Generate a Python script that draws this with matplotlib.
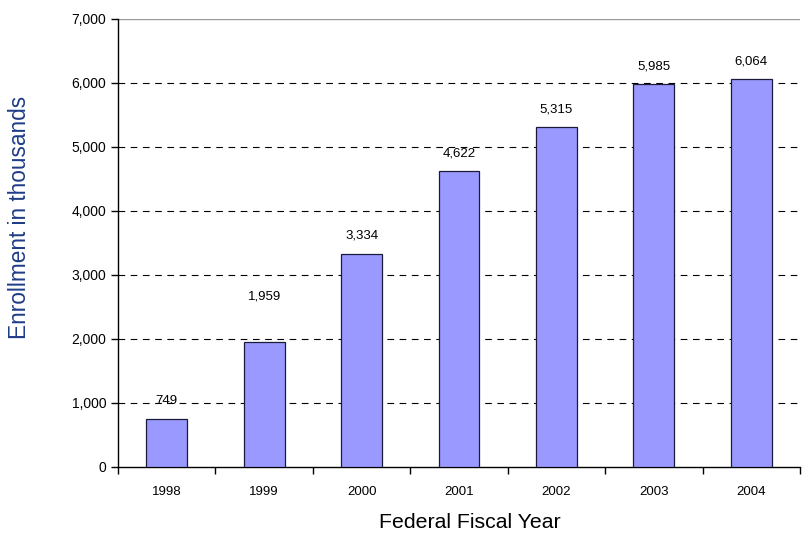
import matplotlib
matplotlib.use("Agg")
import matplotlib.pyplot as plt
from matplotlib.ticker import FuncFormatter

years = ["1998", "1999", "2000", "2001", "2002", "2003", "2004"]
enrollment = [749, 1959, 3334, 4622, 5315, 5985, 6064]
label_offsets = [8.5, 28, 8.5, 8.5, 8.5, 8.5, 8.5]  # points above bar top

plt.rcParams['font.family'] = ['Liberation Sans', 'DejaVu Sans']

fig = plt.figure(figsize=(8.03, 5.33), dpi=100)
ax = fig.add_axes([118/803, 1 - 467/533, (800-118)/803, (467-19)/533])

x = list(range(len(years)))
bars = ax.bar(x, enrollment, width=0.42, color="#9999FF", edgecolor="#1a1a3a", linewidth=0.9, zorder=3)

ax.set_xlim(-0.5, len(years) - 0.5)
ax.set_ylim(0, 7000)
ax.set_yticks(range(0, 7001, 1000))
ax.yaxis.set_major_formatter(FuncFormatter(lambda v, p: f"{int(v):,}"))
ax.set_xticks(x)
ax.set_xticklabels(years)
ax.set_xticks([i - 0.5 for i in range(len(years) + 1)], minor=True)
ax.tick_params(axis='x', which='major', length=0, pad=14, labelsize=9.5)
ax.tick_params(axis='x', which='minor', length=5, direction='out', width=1)
ax.tick_params(axis='y', length=5, direction='out', width=1, labelsize=10)

for yv in range(1000, 7000, 1000):
    ax.axhline(yv, color="black", linestyle=(0, (6, 5)), linewidth=0.8, zorder=1)
ax.axhline(7000, color="#999999", linewidth=1.0, zorder=1)

for s in ["top", "right"]:
    ax.spines[s].set_visible(False)
ax.spines["left"].set_linewidth(1.0)
ax.spines["bottom"].set_linewidth(1.0)

for xi, v, off in zip(x, enrollment, label_offsets):
    ax.annotate(f"{v:,}", (xi, v), xytext=(0, off), textcoords="offset points",
                ha="center", va="bottom", fontsize=9.5, zorder=4)

ax.set_ylabel("Enrollment in thousands", fontsize=16.3, color="#1F3C88", va="center")
ax.yaxis.set_label_coords(-0.144, 0.556)
ax.set_xlabel("Federal Fiscal Year", fontsize=15.3, va="center")
ax.xaxis.set_label_coords(0.516, -0.123)

fig.savefig("out.png", dpi=100)
